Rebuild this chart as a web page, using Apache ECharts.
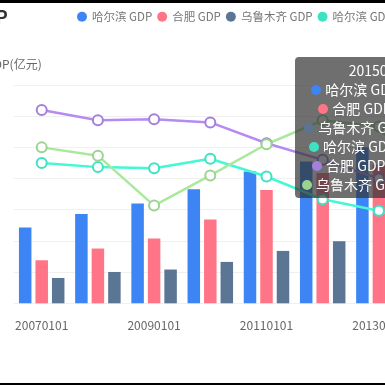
<!DOCTYPE html>
<html><head><meta charset="utf-8">
<script src="https://cdn.jsdelivr.net/npm/echarts@6/dist/echarts.min.js"></script>
<style>
html,body{margin:0;padding:0;background:#000;overflow:hidden;width:385px;height:385px;}
#wrap{position:absolute;left:0;top:3px;width:385px;height:380px;overflow:hidden;background:#fff;}
#chart{position:absolute;left:-32px;top:0;width:900px;height:380px;}
</style></head><body>
<div id="wrap"><div id="chart"></div></div>
<script>
const categories = ['20070101','20080101','20090101','20100101','20110101','20120101','20130101','20140101','20150101'];
const harbinGDP = [2430, 2860, 3200, 3660, 4230, 4545, 5000, 5340, 5751.2];
const hefeiGDP = [1380, 1756, 2080, 2690, 3630, 4175, 4450, 5158, 5660.3];
const urumqiGDP = [812, 1005, 1083, 1327, 1680, 1991, 2200, 2460, 2631.6];
const harbinGrowth = [13.5, 13.1, 13.0, 13.9, 12.2, 10.0, 8.9, 7.2, 7.1];
const hefeiGrowth = [18.6, 17.6, 17.7, 17.4, 15.4, 13.8, 12.0, 10.0, 10.5];
const urumqiGrowth = [15.0, 14.2, 9.4, 12.3, 15.3, 17.6, 17.0, 10.0, 8.5];
const seriesNames = ['哈尔滨 GDP','合肥 GDP','乌鲁木齐 GDP','哈尔滨 GDP增速','合肥 GDP增速','乌鲁木齐 GDP增速'];
const colors = ['#3d85f4','#ff7486','#5b7595','#3ee2c2','#a57fdc','#9ad48e'];

const FONT = '"Noto Sans CJK SC", "Noto Sans", sans-serif';
const chart = echarts.init(document.getElementById('chart'));

function barSeries(name, data, color) {
  return { name, type: 'bar', data, barWidth: 12.5, barGap: '32%', itemStyle: { color } };
}
function lineSeries(name, data, color) {
  return { name, type: 'line', yAxisIndex: 1, data, symbol: 'emptyCircle', symbolSize: 10,
    lineStyle: { width: 2.5, color }, itemStyle: { color, borderWidth: 2 } };
}

chart.setOption({
  animation: false,
  color: colors,
  textStyle: { fontFamily: FONT },
  title: { text: 'GDP', left: -3, top: 0, textStyle: { fontSize: 18, fontWeight: 'bold', color: '#333', fontFamily: FONT } },
  legend: {
    data: seriesNames, icon: 'circle', itemWidth: 10, itemHeight: 10, itemGap: 5, width: 800,
    left: 104, top: 3, textStyle: { fontSize: 11.5, color: '#777', fontFamily: FONT }
  },
  tooltip: {
    trigger: 'axis', alwaysShowContent: true, transitionDuration: 0,
    axisPointer: { type: 'none' },
    position: [327, 54],
    backgroundColor: 'rgba(50,50,50,0.7)', borderWidth: 0, padding: [4, 7],
    extraCssText: 'box-shadow:none;border-radius:4px;',
    textStyle: { color: '#fff', fontSize: 14, fontFamily: FONT },
    formatter: function (params) {
      let s = '<div style="text-align:center;line-height:19px;">' + params[0].name;
      params.forEach(function (p) { s += '<br/>' + p.marker + p.seriesName + ': ' + p.value; });
      return s + '</div>';
    }
  },
  grid: { left: 45.6, top: 82, width: 505.8, height: 218.3 },
  xAxis: {
    type: 'category', data: categories, boundaryGap: true,
    axisLine: { show: false }, axisTick: { show: false },
    axisLabel: { interval: 1, margin: 16, color: '#666', fontSize: 12, fontFamily: FONT }
  },
  yAxis: [
    { type: 'value', min: 0, max: 7000, interval: 1000, name: 'GDP(亿元)',
      nameTextStyle: { color: '#666', fontSize: 12, fontFamily: FONT },
      axisLine: { show: false }, axisTick: { show: false }, axisLabel: { show: false },
      splitLine: { lineStyle: { color: '#f0f0f0' } } },
    { type: 'value', min: 0, max: 21, interval: 3, name: 'GDP增速(%)',
      nameTextStyle: { color: '#666', fontSize: 12, fontFamily: FONT },
      axisLine: { show: false }, axisTick: { show: false },
      axisLabel: { color: '#666' }, splitLine: { show: false } }
  ],
  series: [
    barSeries(seriesNames[0], harbinGDP, colors[0]),
    barSeries(seriesNames[1], hefeiGDP, colors[1]),
    barSeries(seriesNames[2], urumqiGDP, colors[2]),
    lineSeries(seriesNames[3], harbinGrowth, colors[3]),
    lineSeries(seriesNames[4], hefeiGrowth, colors[4]),
    lineSeries(seriesNames[5], urumqiGrowth, colors[5])
  ]
});
chart.dispatchAction({ type: 'showTip', seriesIndex: 0, dataIndex: 8 });
</script>
</body></html>
